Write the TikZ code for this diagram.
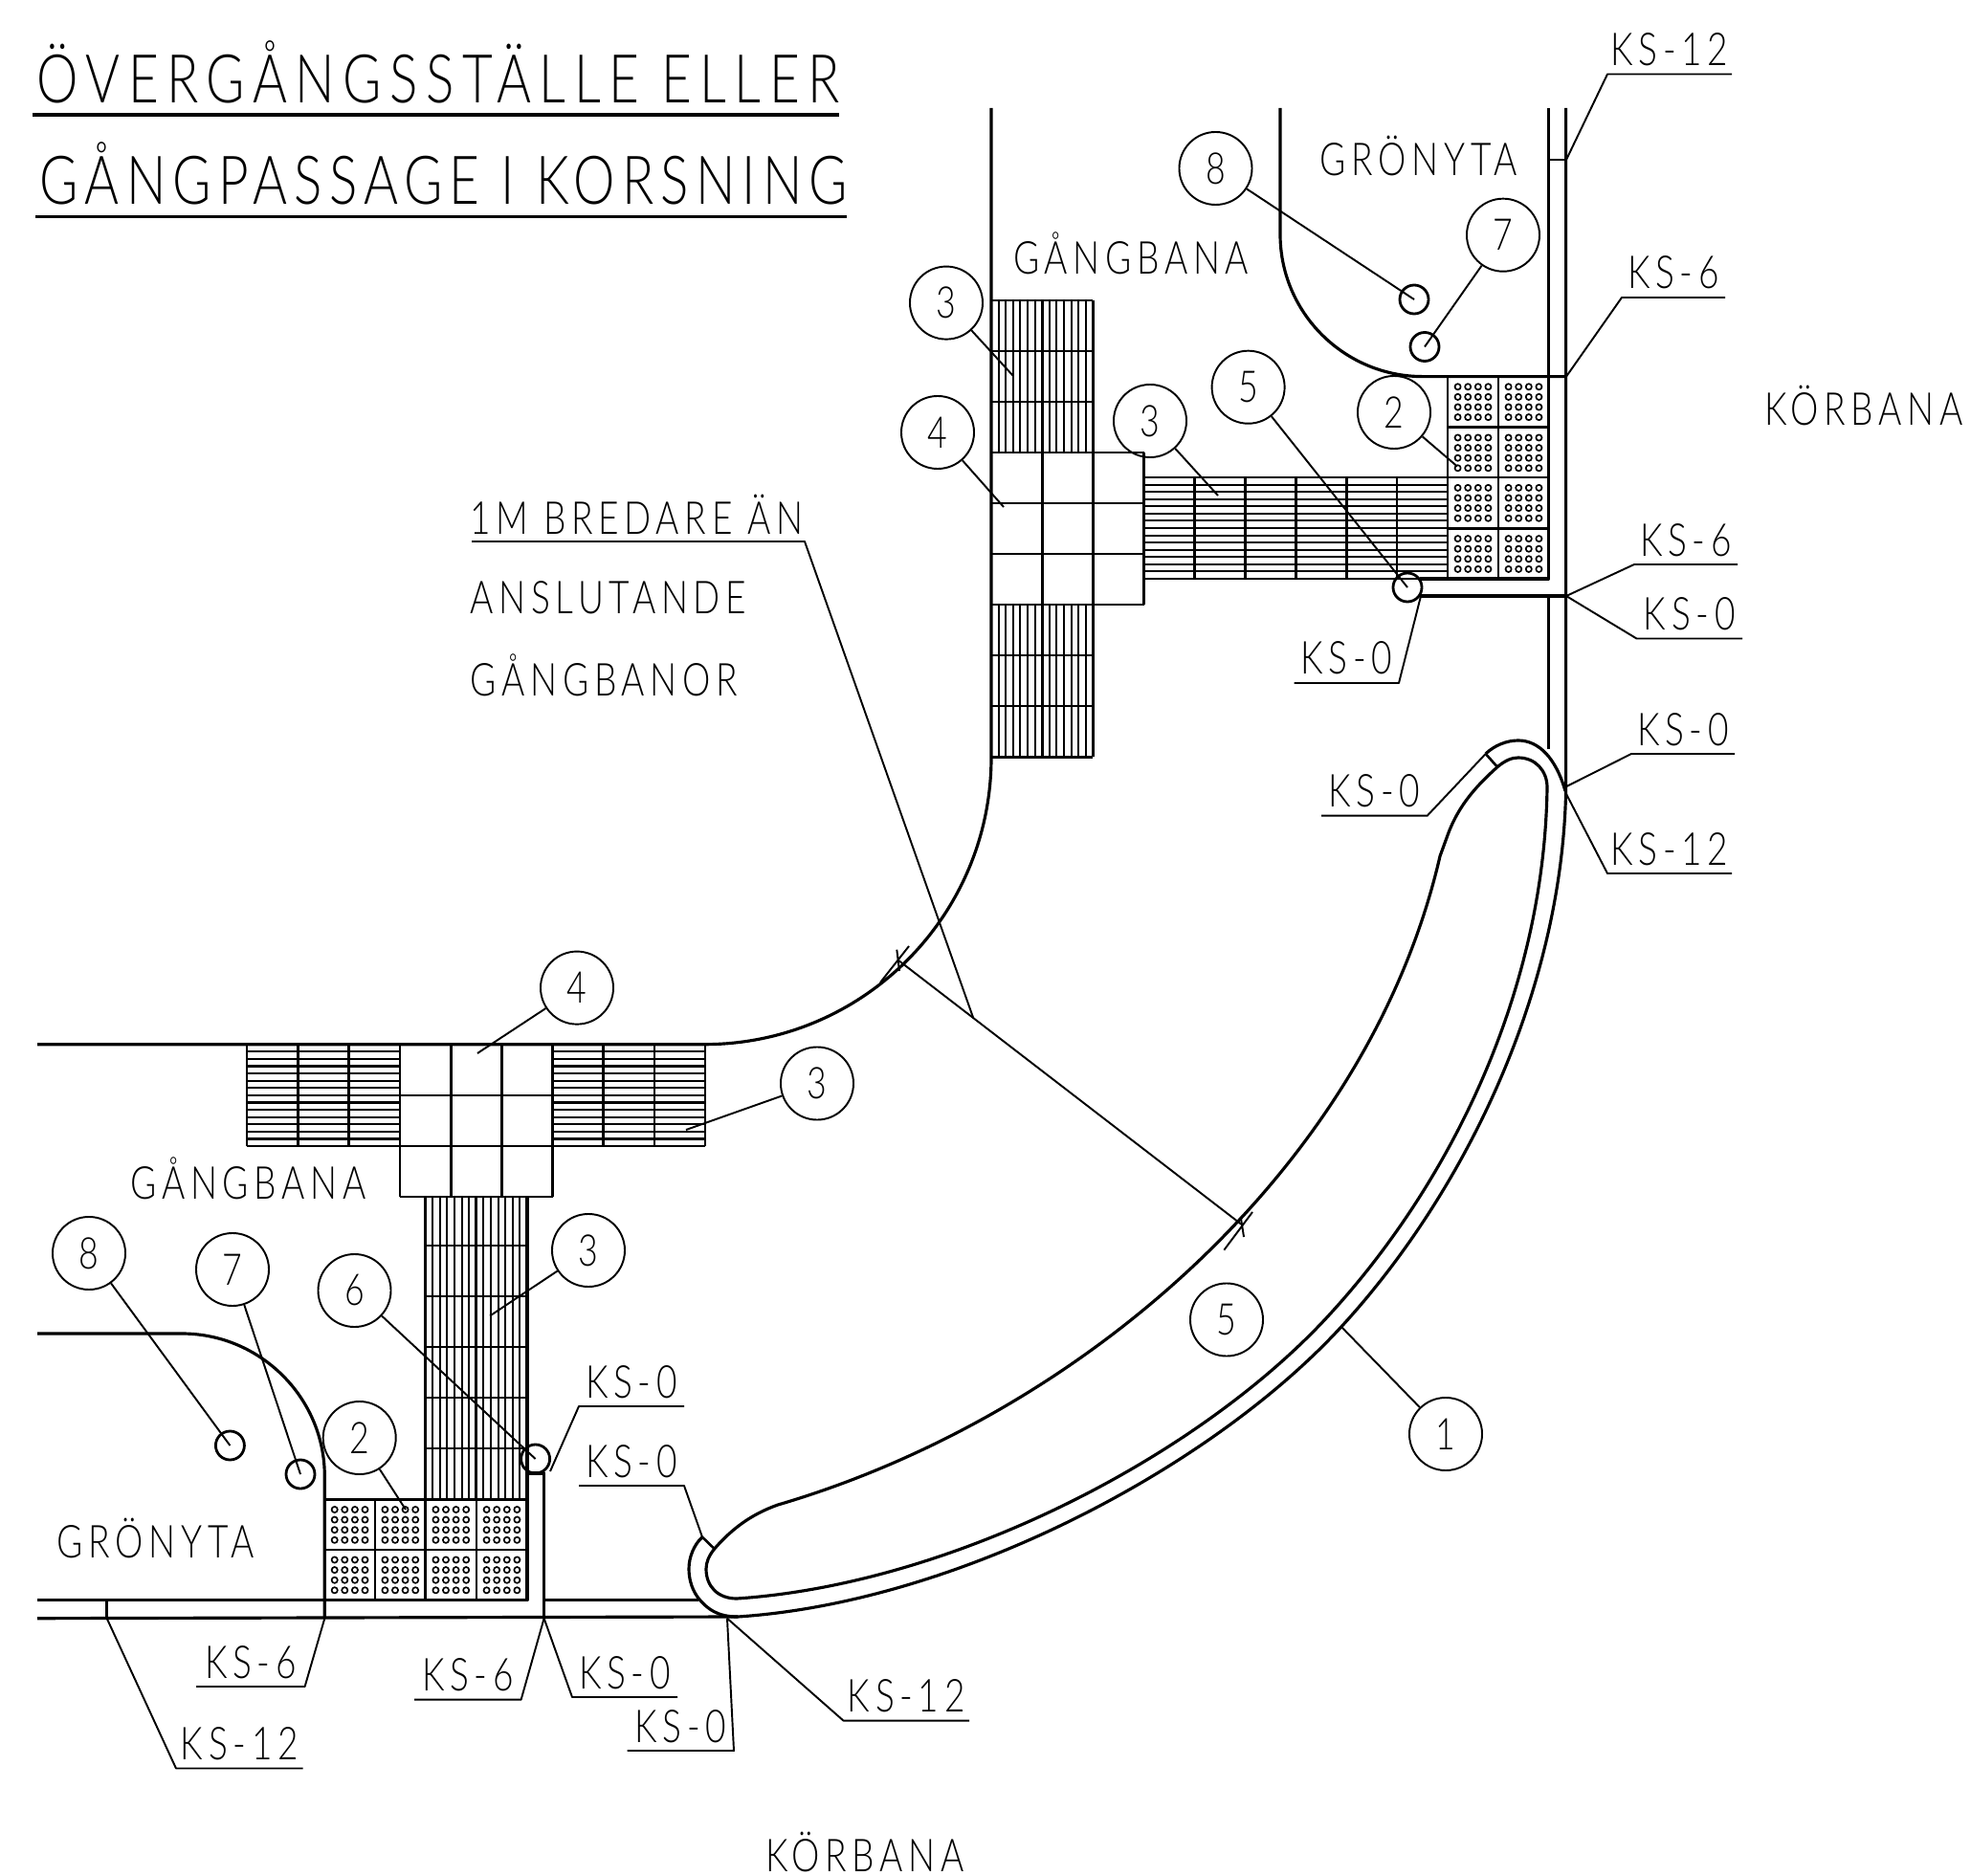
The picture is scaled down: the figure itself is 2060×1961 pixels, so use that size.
\documentclass[tikz,border=0pt]{standalone}
\usepackage{fontspec}
\setmainfont[FakeStretch=0.78,LetterSpace=12]{Lato Light}
\begin{document}
\begin{tikzpicture}[x=0.01cm,y=-0.01cm,line join=round]
        % Styles
        \tikzstyle{kerb}=[line width=0.9pt]
        \tikzstyle{tile}=[line width=0.75pt]
        \tikzstyle{hatch}=[line width=0.6pt]
        \tikzstyle{dot}=[line width=0.48pt]
        \tikzstyle{leader}=[line width=0.55pt]
        \tikzstyle{callout}=[circle,draw,line width=0.55pt,minimum size=0.76cm,inner sep=0pt,font=\fontsize{13}{13}\selectfont]
        \tikzstyle{word}=[anchor=base,inner sep=0pt,font=\fontsize{13.5}{13.5}\selectfont]
        \tikzstyle{heading}=[anchor=base west,inner sep=0pt,font=\fontsize{20}{20}\selectfont]
        \useasboundingbox (0,0) rectangle (2060,1961);
        %title
        \node[heading] (title one) at (38,108) {ÖVERGÅNGSSTÄLLE ELLER};
        \node[heading] (title two) at (41,214) {\addfontfeature{LetterSpace=10.2}GÅNGPASSAGE I KORSNING};
        \draw[kerb] (34.4,120) -- (877,120);
        \draw[kerb] (37,226.7) -- (885,226.7);
        %words
        \foreach \name/\x/\y/\txt in {grass top/1483/184/GRÖNYTA,walk top/1182/286.4/GÅNGBANA,road right/1948/445/KÖRBANA,walk low/259.5/1253/GÅNGBANA,grass low/163/1628/GRÖNYTA,road low/904/1956/KÖRBANA}
            \node[word] (\name) at (\x,\y) {\txt};
        \node[word,anchor=base west] (wider a) at (491,558) {1M BREDARE ÄN};
        \node[word,anchor=base west] (wider b) at (491,642) {ANSLUTANDE};
        \node[word,anchor=base west] (wider c) at (491,727) {GÅNGBANOR};
        %upper walk
        \draw[kerb] (1036,113) -- (1036,791.7) .. controls (1036,957) and (902,1091.7) .. (736,1091.7) -- (39,1091.7);
        \foreach \x in {0,...,14}
            \draw[hatch] (1036+\x*7.6,314) -- (1036+\x*7.6,473) (1036+\x*7.6,632) -- (1036+\x*7.6,791.4);
        \foreach \y in {314,367,420,685,738,791.4}
            \draw[tile] (1036,\y) -- (1142.4,\y);
        \foreach \x in {1089.2,1142.4}
            \draw[tile] (\x,314) -- (\x,791.4);
        \foreach \y in {473,526,579,632}
            \draw[tile] (1036,\y) -- (1195.6,\y);
        \draw[tile] (1195.6,473) -- (1195.6,632);
        \foreach \y in {0,...,14}
            \draw[hatch] (1195.6,499+\y*7.57) -- (1513,499+\y*7.57);
        \foreach \x in {1248.5,1301.4,1354.3,1407.2,1460.1}
            \draw[tile] (\x,499) -- (\x,605);
        %upper dots
        \foreach \x in {1539.5,1592.5}
            \foreach \y in {420.2,473.4,525.8,579}
                \foreach \i in {-15.9,-5.3,5.3,15.9}
                    \foreach \j in {-15.9,-5.3,5.3,15.9}
                        \draw[dot] (\x+\i,\y+\j) circle [radius=0.031cm];
        \foreach \x in {1513,1566}
            \draw[tile] (\x,393.6) -- (\x,605);
        \foreach \y in {446.8,499,552.5}
            \draw[tile] (1513,\y) -- (1618.7,\y);
        %upper kerb
        \draw[kerb] (1338,113) -- (1338,245) .. controls (1338,327) and (1405,393.6) .. (1487,393.6) -- (1636.6,393.6);
        \draw[kerb] (1618.7,113) -- (1618.7,605) -- (1484,605);
        \draw[kerb] (1485,623) -- (1636.6,623);
        \draw[kerb] (1618.7,623) -- (1618.7,783);
        %lower walk
        \foreach \x in {0,...,14}
            \draw[hatch] (444.6+\x*7.6,1251) -- (444.6+\x*7.6,1567.7);
        \foreach \y in {1302,1355,1408,1461,1514}
            \draw[tile] (444.6,\y) -- (551,\y);
        \draw[tile] (444.6,1251) -- (444.6,1567.7);
        \draw[tile] (497.8,1251) -- (497.8,1567.7);
        \foreach \y in {0,...,14}
            \draw[hatch] (258,1091.7+\y*7.6) -- (418,1091.7+\y*7.6) (577.6,1091.7+\y*7.6) -- (737,1091.7+\y*7.6);
        \foreach \x in {258,311.3,364.6,630.8,684,737}
            \draw[tile] (\x,1091.7) -- (\x,1198);
        \foreach \x in {418,471.2,524.4,577.6}
            \draw[tile] (\x,1091.7) -- (\x,1251);
        \foreach \y in {1144.9,1198,1251}
            \draw[tile] (418,\y) -- (577.6,\y);
        %lower dots
        \foreach \x in {365.6,418.3,471.3,524.5}
            \foreach \y in {1593.9,1646.4}
                \foreach \i in {-15.9,-5.3,5.3,15.9}
                    \foreach \j in {-15.9,-5.3,5.3,15.9}
                        \draw[dot] (\x+\i,\y+\j) circle [radius=0.031cm];
        \foreach \x in {392,444.6,498}
            \draw[tile] (\x,1567.7) -- (\x,1672.7);
        \draw[tile] (339.3,1620) -- (551,1620);
        \draw[tile] (339.3,1567.7) -- (551,1567.7);
        %lower kerb
        \draw[kerb] (39,1394) -- (190,1394) .. controls (272,1394) and (339.3,1461) .. (339.3,1543) -- (339.3,1691.7);
        \draw[kerb] (39,1672.7) -- (551,1672.7) -- (551,1251);
        \draw[kerb] (552,1540) -- (568.6,1540) -- (568.6,1691.7);
        \draw[kerb] (568.6,1672.7) -- (730,1672.7);
        \draw[kerb] (39,1691.7) -- (771,1690);
        \draw[tile] (111.7,1672.7) -- (111.7,1691.7);
        \draw[tile] (1618.7,167) -- (1636.6,167);
        %island
        \draw[kerb] (771,1690) .. controls (1000,1675) and (1263,1536) .. (1399,1390) .. controls (1528,1251) and (1632,1040) .. (1636.6,827) -- (1636.6,113);
        \draw[kerb] (734,1606.7) .. controls (725,1615) and (720,1628) .. (720,1640) .. controls (720,1652) and (724,1664) .. (731.7,1672.7) .. controls (740,1682) and (750,1690) .. (771,1690);
        \draw[kerb] (1552.7,788) .. controls (1562,779) and (1575,774) .. (1586.7,774) .. controls (1608,774) and (1626,792) .. (1636,827);
        \draw[kerb] (770,1671) .. controls (995,1656) and (1250,1524) .. (1386,1378) .. controls (1515,1239) and (1614,1038) .. (1617,823) .. controls (1617,806) and (1605,792) .. (1586.7,792) .. controls (1580,792) and (1573,795) .. (1565,801.7) .. controls (1545,820) and (1525,840) .. (1513,873) -- (1505,895) .. controls (1430,1220) and (1130,1480) .. (813,1573) .. controls (785,1583) and (765,1598) .. (746.7,1619) .. controls (741,1626) and (738,1633) .. (738,1640) .. controls (738,1658) and (750,1671) .. (770,1671);
        \draw[tile] (734,1606.7) -- (746.7,1619);
        \draw[tile] (1552.7,788) -- (1565,801.7);
        %small round marks
        \foreach \name/\x/\y in {mark a/1478/313,mark b/1489/362.5,mark c/1471/614,mark d/240.4/1511,mark e/314/1541,mark f/559.6/1525}
            \node[circle,draw,line width=0.8pt,minimum size=0.3cm,inner sep=0pt] (\name) at (\x,\y) {};
        %numbered circles
        \foreach \name/\x/\y/\txt/\ex/\ey in {top eight/1270.5/176/8/1478/313,top seven/1571/245.7/7/1489/362.5,top three a/989/316.6/3/1059/393,top three b/1202/440/3/1273/518,top five/1304.6/404.7/5/1471/614,top two/1457/431/2/1523/487.5,top four/980/452/4/1049/530,low four/603/1032.6/4/499/1101,low three a/854/1132.5/3/717/1181,low three b/615/1307/3/512/1375.5,low eight/93/1310/8/240.4/1511,low seven/243/1327/7/314/1541,low six/370.5/1349/6/559.6/1525,low two/375.7/1503/2/424/1578,low one/1511/1499/1/1401.5/1386.5}
        {
            \node[callout] (\name) at (\x,\y) {\txt};
            \coordinate (\name end) at (\ex,\ey);
            \draw[leader] (\name) -- (\name end);
        }
        \node[callout] (low five) at (1282,1379.5) {5};
        %KS labels
        \foreach \name/\xa/\xb/\y/\txt/\ex/\ey in {ks a/1810/1680/77.5/KS-12/1637/167,ks b/1803/1695/311/KS-6/1637/393.6,ks c/1816/1708/590/KS-6/1637/623,ks d/1821/1710.5/667.5/KS-0/1637/623,ks e/1352.7/1462/714/KS-0/1485/623,ks f/1813/1705/788/KS-0/1636/822.7,ks g/1810/1680/913/KS-12/1636/828,ks h/1381/1491.7/852.7/KS-0/1552.7/788,ks i/715/605/1470/KS-0/575/1538,ks j/605/715/1553/KS-0/734/1606.7,ks k/205/318.6/1763/KS-6/339.3/1691.7,ks l/433/544.6/1776.7/KS-6/568.6/1691.7,ks m/708/598/1774/KS-0/568.6/1691.7,ks n/655.6/767/1830/KS-0/760/1691.7,ks o/1013/881.5/1798.6/KS-12/760/1691.7,ks p/316.6/184/1848.5/KS-12/111.7/1691.7}
        {
            \node[word] (\name) at ({(\xa+\xb)/2},\y-9) {\txt};
            \coordinate (\name end) at (\ex,\ey);
            \draw[leader] (\xa,\y) -- (\xb,\y) -- (\name end);
        }
        %width measure
        \coordinate (wide a) at (938.3,1003.3);
        \coordinate (wide b) at (1297.7,1280);
        \coordinate (wide c) at (1017.3,1064.3);
        \draw[leader] (wide a) -- (wide b);
        \draw[leader] (493,566) -- (841,566) -- (wide c);
        \draw[leader] (920,1027) -- (950,989) (937.3,992.7) -- (940,1015);
        \draw[leader] (1279.3,1306.7) -- (1309,1267) (1296.7,1271.7) -- (1300,1293);
\end{tikzpicture}
\end{document}
